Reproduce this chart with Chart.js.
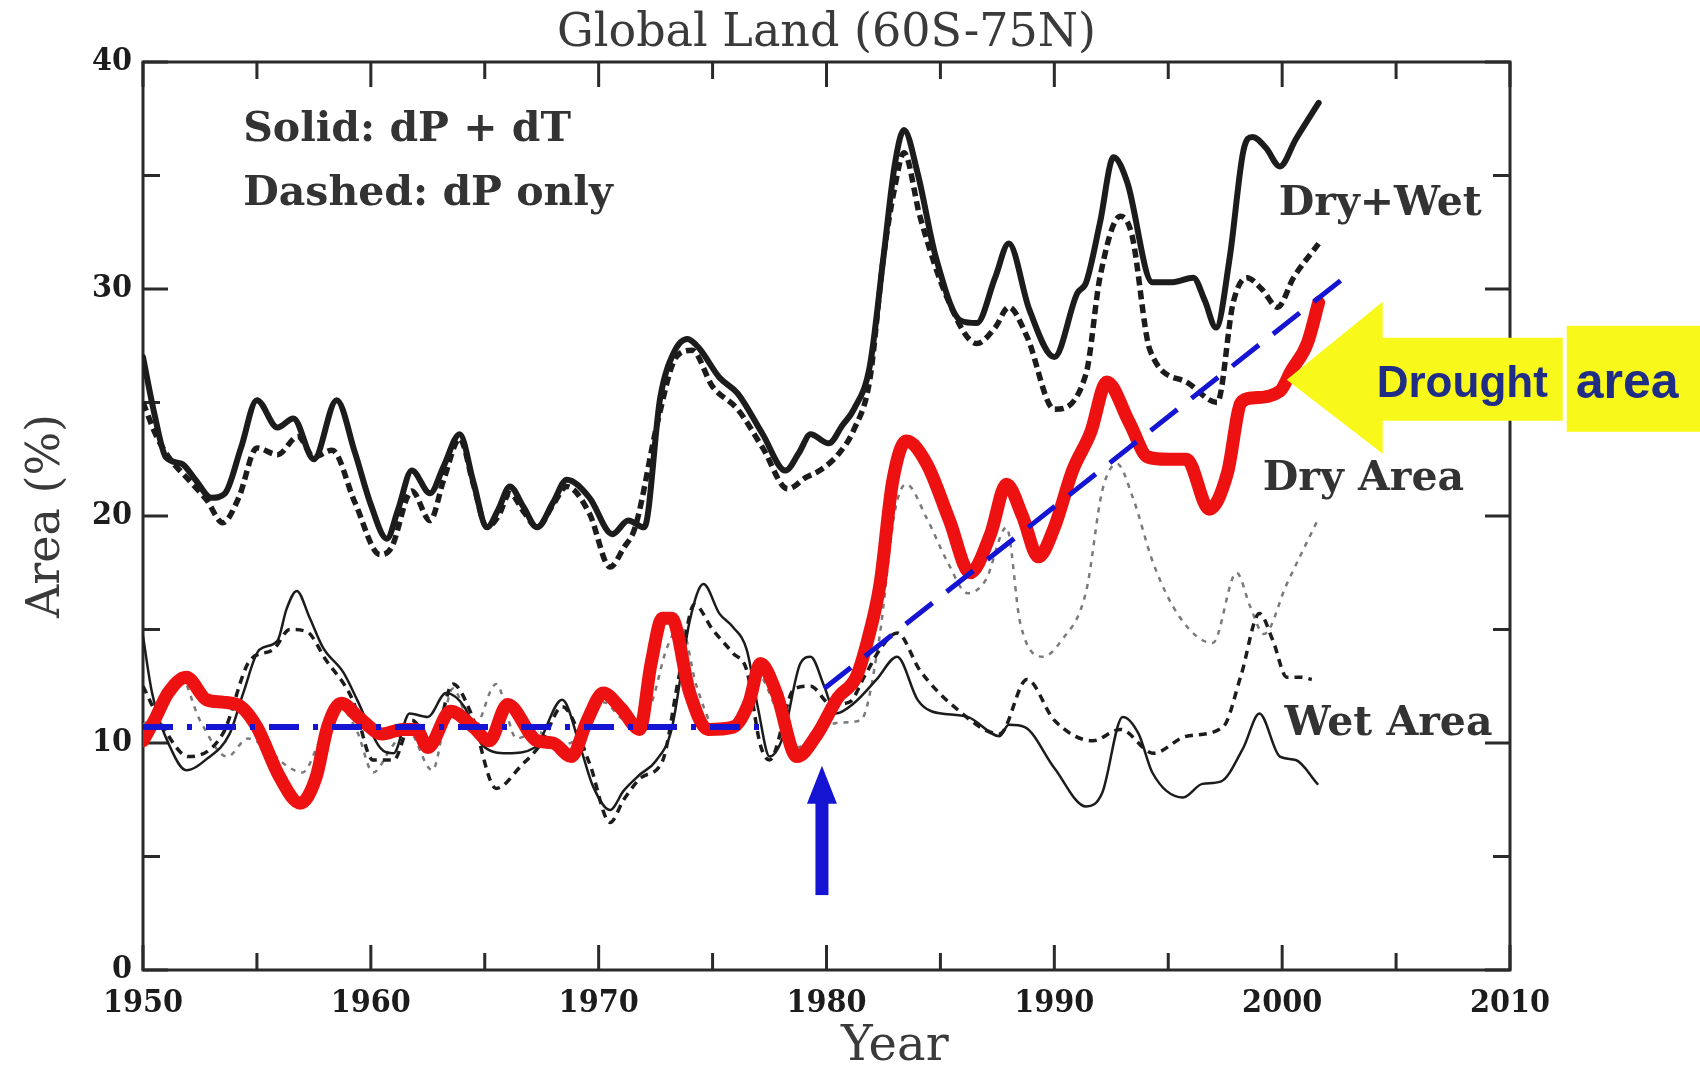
<!DOCTYPE html>
<html lang="en">
<head>
  <meta charset="utf-8">
  <title>Global Land (60S-75N)</title>
  <script src="https://cdn.jsdelivr.net/npm/chart.js@4.4.1/dist/chart.umd.min.js"></script>
  <style>
    html, body { margin: 0; padding: 0; background: #fff; }
    #wrap { width: 1700px; height: 1067px; }
  </style>
</head>
<body>
<div id="wrap"><canvas id="fig" width="1700" height="1067"></canvas></div>
<script>
/* values (year, area %) */

// Dry+Wet, solid (dP + dT)
const dryWetSolidYears = [1950, 1950.5, 1951, 1951.7, 1952.3, 1953.0, 1953.6, 1954.3, 1955.0, 1955.9, 1956.6, 1957.5, 1958.5, 1959.3, 1960.0, 1960.7, 1961.2, 1961.8, 1962.6, 1963.2, 1963.9, 1964.5, 1965.1, 1965.6, 1966.1, 1966.7, 1967.3, 1968.0, 1968.6, 1969.6, 1970.6, 1971.3, 1972.0, 1972.7, 1973.3, 1973.9, 1974.4, 1975.3, 1976.1, 1977.2, 1978.2, 1978.8, 1979.3, 1980.1, 1980.7, 1981.2, 1981.9, 1982.5, 1983.0, 1983.4, 1984.0, 1984.8, 1985.9, 1986.6, 1987.4, 1988.0, 1988.9, 1990.0, 1991.0, 1991.4, 1992.0, 1992.6, 1993.2, 1994.3, 1995.2, 1996.1, 1996.6, 1997.1, 1997.7, 1998.3, 1998.7, 1999.3, 1999.9, 2000.6, 2001.6];
const dryWetSolidVals  = [27.0, 24.5, 22.6, 22.3, 21.6, 20.8, 21.0, 23.0, 25.1, 23.9, 24.3, 22.5, 25.1, 22.8, 20.5, 19.0, 20.3, 22.0, 21.0, 22.2, 23.6, 21.5, 19.5, 20.3, 21.3, 20.4, 19.5, 20.6, 21.6, 20.8, 19.2, 19.8, 19.5, 25.2, 27.2, 27.8, 27.4, 26.1, 25.4, 23.6, 22.0, 22.8, 23.6, 23.2, 24.0, 24.7, 26.6, 31.4, 35.5, 37.0, 35.1, 31.4, 28.6, 28.5, 30.5, 32.0, 29.1, 27.0, 29.8, 30.3, 32.9, 35.8, 34.7, 30.3, 30.3, 30.5, 29.5, 28.3, 31.4, 36.1, 36.7, 36.2, 35.4, 36.6, 38.2];

// Dry+Wet, dashed (dP only)
const dryWetDashYears = [1950, 1950.6, 1951.2, 1952.0, 1952.8, 1953.5, 1954.2, 1955.0, 1955.9, 1956.8, 1957.5, 1958.3, 1959.3, 1960.4, 1960.9, 1961.8, 1962.6, 1963.2, 1963.9, 1964.5, 1965.1, 1965.6, 1966.1, 1966.7, 1967.3, 1968.0, 1968.6, 1969.6, 1970.5, 1971.1, 1971.6, 1972.6, 1973.4, 1974.1, 1975.0, 1976.1, 1977.2, 1978.3, 1979.1, 1979.7, 1980.5, 1981.2, 1981.9, 1982.5, 1983.0, 1983.4, 1984.1, 1985.3, 1986.6, 1987.4, 1988.0, 1988.8, 1990.0, 1991.4, 1992.0, 1992.9, 1993.4, 1994.2, 1995.8, 1997.15, 1997.85, 1998.45, 1999.1, 1999.8, 2000.5, 2001.6];
const dryWetDashVals  = [25.0, 23.5, 22.5, 21.6, 20.7, 19.7, 20.8, 23.0, 22.7, 23.5, 22.6, 22.9, 20.6, 18.3, 18.6, 21.1, 19.8, 21.6, 23.4, 21.4, 19.5, 20.0, 21.0, 20.2, 19.5, 20.5, 21.3, 20.1, 17.75, 18.6, 19.5, 24.2, 27.0, 27.3, 25.7, 24.7, 23.0, 21.2, 21.7, 22.0, 22.7, 23.8, 26.0, 31.4, 34.5, 36.0, 33.2, 29.6, 27.6, 28.3, 29.2, 27.9, 24.7, 26.3, 30.5, 33.2, 32.4, 27.3, 25.9, 25.0, 29.4, 30.5, 30.0, 29.2, 30.5, 32.0];

// Dry area, solid (dP + dT) - the highlighted drought area
const droughtYears = [1950, 1950.5, 1951.1, 1951.9, 1952.8, 1953.5, 1954.3, 1955.0, 1956.0, 1956.9, 1957.6, 1958.1, 1958.7, 1959.5, 1960.5, 1961.4, 1962.0, 1962.5, 1963.5, 1964.5, 1965.2, 1966.0, 1967.3, 1968.0, 1968.8, 1969.5, 1970.2, 1971.0, 1971.8, 1972.3, 1972.8, 1973.2, 1974.0, 1974.8, 1975.9, 1976.6, 1977.1, 1977.8, 1978.7, 1979.6, 1980.5, 1981.3, 1981.8, 1982.35, 1982.9, 1983.5, 1984.4, 1985.4, 1986.3, 1987.2, 1987.9, 1988.6, 1989.3, 1990.0, 1990.8, 1991.6, 1992.3, 1993.3, 1994.1, 1995.0, 1995.8, 1996.8, 1997.6, 1998.2, 1998.7, 1999.9, 2000.4, 2001.1, 2001.6];
const droughtVals  = [10.1, 11.0, 12.2, 12.9, 11.9, 11.8, 11.6, 10.7, 8.5, 7.35, 8.5, 10.7, 11.75, 11.1, 10.4, 10.6, 10.6, 9.8, 11.4, 10.7, 10.1, 11.7, 10.1, 10.0, 9.4, 11.0, 12.2, 11.5, 10.6, 13.5, 15.5, 15.5, 12.2, 10.6, 10.7, 11.8, 13.5, 12.2, 9.4, 10.4, 12.0, 12.9, 14.5, 17.0, 21.5, 23.3, 22.3, 19.8, 17.5, 19.2, 21.4, 20.0, 18.2, 19.5, 22.0, 23.7, 25.9, 24.1, 22.6, 22.5, 22.5, 20.3, 21.9, 25.0, 25.2, 25.5, 26.4, 27.6, 29.4];

// Dry area, dashed (dP only)
const dryDashYears = [1950, 1950.8, 1951.6, 1952.5, 1953.7, 1954.6, 1955.5, 1956.3, 1957.0, 1957.8, 1958.6, 1959.4, 1960.1, 1960.9, 1961.6, 1962.7, 1963.6, 1964.5, 1965.5, 1966.4, 1967.3, 1968.3, 1969.3, 1970.2, 1971.2, 1972.2, 1973.0, 1973.6, 1974.3, 1975.2, 1976.2, 1977.0, 1977.8, 1978.7, 1979.7, 1980.6, 1981.5, 1982.3, 1983.0, 1983.5, 1984.4, 1985.3, 1986.2, 1987.0, 1987.9, 1988.5, 1989.5, 1990.3, 1991.4, 1992.1, 1992.75, 1993.45, 1994.35, 1995.5, 1996.95, 1998.0, 1998.6, 1999.2, 2000.2, 2001.55];
const dryDashVals  = [10.8, 11.5, 13.0, 11.0, 9.4, 10.2, 9.7, 9.0, 8.7, 10.2, 11.6, 10.5, 8.7, 9.8, 10.6, 8.8, 12.4, 10.6, 12.6, 10.2, 10.5, 9.9, 10.4, 11.8, 11.0, 11.5, 14.2, 15.2, 12.5, 10.6, 11.2, 13.0, 11.5, 9.8, 10.6, 10.9, 11.0, 14.5, 20.2, 21.4, 19.9, 18.0, 16.6, 17.2, 19.5, 15.3, 13.8, 14.5, 16.7, 21.1, 22.3, 20.8, 17.9, 15.55, 14.4, 17.5, 16.0, 14.8, 17.0, 19.8];

// Wet area, solid (dP + dT)
const wetSolidYears = [1950, 1950.4, 1951.2, 1951.9, 1952.8, 1953.8, 1954.4, 1955.1, 1955.9, 1956.3, 1956.75, 1957.3, 1957.9, 1958.8, 1959.4, 1960.4, 1961.0, 1961.7, 1962.5, 1963.3, 1964.1, 1964.9, 1966.0, 1967.2, 1968.4, 1969.2, 1969.75, 1970.5, 1971.1, 1971.8, 1972.5, 1973.2, 1974.0, 1974.6, 1975.3, 1975.9, 1976.5, 1977.0, 1977.5, 1978.1, 1978.85, 1979.3, 1979.9, 1980.4, 1981.2, 1982.2, 1983.1, 1984.0, 1984.6, 1986.2, 1987.6, 1988.0, 1988.7, 1990.0, 1991.4, 1992.1, 1993.0, 1993.7, 1994.3, 1995.65, 1996.5, 1997.3, 1998.3, 1999.0, 1999.9, 2000.6, 2001.55];
const wetSolidVals  = [14.7, 12.2, 9.8, 8.8, 9.3, 10.4, 12.2, 14.1, 14.5, 15.9, 16.7, 15.55, 14.2, 13.1, 11.9, 9.8, 9.55, 11.3, 11.15, 12.2, 11.6, 9.9, 9.55, 9.8, 11.9, 9.8, 8.1, 7.05, 7.9, 8.6, 9.2, 10.6, 15.4, 17.0, 15.7, 15.1, 14.1, 11.5, 9.4, 10.3, 13.5, 13.8, 12.5, 11.3, 11.75, 12.8, 13.8, 11.9, 11.4, 11.15, 10.3, 10.8, 10.7, 8.9, 7.2, 7.8, 11.15, 10.4, 8.7, 7.6, 8.2, 8.3, 9.8, 11.3, 9.4, 9.25, 8.2];

// Wet area, dashed (dP only)
const wetDashYears = [1950, 1951.0, 1952.0, 1953.5, 1954.7, 1955.7, 1956.45, 1957.2, 1958.0, 1959.2, 1960.1, 1961.0, 1961.8, 1962.7, 1963.6, 1964.4, 1965.5, 1966.6, 1967.5, 1968.4, 1969.6, 1970.5, 1971.1, 1971.9, 1972.8, 1973.5, 1974.2, 1975.0, 1975.9, 1976.5, 1977.1, 1977.5, 1978.6, 1979.3, 1980.2, 1981.0, 1981.7, 1982.4, 1983.1, 1984.1, 1985.6, 1987.6, 1988.8, 1990.0, 1991.7, 1992.9, 1994.35, 1995.8, 1997.4, 1998.2, 1999.0, 1999.6, 2000.2, 2000.8, 2001.3];
const wetDashVals  = [12.5, 10.5, 9.4, 10.4, 13.65, 14.1, 15.0, 14.9, 13.7, 11.9, 9.25, 9.25, 11.0, 9.9, 12.6, 11.3, 8.0, 9.0, 10.0, 11.6, 9.1, 6.5, 7.5, 8.5, 9.2, 12.8, 16.1, 15.0, 13.95, 13.2, 9.9, 9.25, 12.4, 12.5, 11.7, 11.8, 13.0, 14.2, 14.85, 13.2, 11.6, 10.4, 12.8, 11.0, 10.1, 10.6, 9.55, 10.3, 10.7, 13.0, 15.7, 14.5, 12.9, 12.9, 12.8];

// blue reference lines
const flatYears = [1950, 1977.1];
const flatVals  = [10.7, 10.7];
const trendYears = [1979.9, 2002.6];
const trendVals  = [12.4, 30.4];

// blue arrow at 1980 and the tip of the yellow "Drought area" arrow (data units)
const arrowYear = 1979.8, arrowFrom = 3.3, arrowTo = 9.0;
const droughtTipYear = 2000.2, droughtTipVal = 26.0;

// text labels placed in data units
const notes = [
  { text: 'Solid: dP + dT',  x: 1954.4, y: 36.5 },
  { text: 'Dashed: dP only', x: 1954.4, y: 33.7 },
  { text: 'Dry+Wet',         x: 1999.85, y: 33.25 },
  { text: 'Dry Area',        x: 1999.15, y: 21.15 },
  { text: 'Wet Area',        x: 2000.1, y: 10.35 }
];

const BLUE = '#1414d2', RED = '#ee1111', INK = '#1c1c1c', YELLOW = '#f8f81a';
const serifBold = "'DejaVu Serif Condensed', 'DejaVu Serif', serif";

function pts(xs, ys) {
  return xs.map((x, i) => ({ x: x, y: ys[i] }));
}

// frame, inward ticks, texts and arrows
const figurePlugin = {
  id: 'figure',
  beforeDatasetsDraw(chart) {
    const ctx = chart.ctx, a = chart.chartArea;
    const xs = chart.scales.x, ys = chart.scales.y;
    ctx.save();
    ctx.strokeStyle = '#2a2a2a';
    ctx.lineWidth = 3;
    ctx.strokeRect(a.left, a.top, a.right - a.left, a.bottom - a.top);
    ctx.beginPath();
    for (let yr = 1950; yr <= 2010; yr += 5) {
      const px = xs.getPixelForValue(yr);
      const len = yr % 10 === 0 ? 25 : 17;
      ctx.moveTo(px, a.bottom); ctx.lineTo(px, a.bottom - len);
      ctx.moveTo(px, a.top); ctx.lineTo(px, a.top + len);
    }
    for (let v = 0; v <= 40; v += 5) {
      const py = ys.getPixelForValue(v);
      const len = v % 10 === 0 ? 25 : 17;
      ctx.moveTo(a.left, py); ctx.lineTo(a.left + len, py);
      ctx.moveTo(a.right, py); ctx.lineTo(a.right - len, py);
    }
    ctx.stroke();
    ctx.restore();
  },
  afterDraw(chart) {
    const ctx = chart.ctx, a = chart.chartArea;
    const xs = chart.scales.x, ys = chart.scales.y;
    ctx.save();

    // title and axis titles
    ctx.fillStyle = '#3a3a3a';
    ctx.textBaseline = 'alphabetic';
    ctx.textAlign = 'center';
    ctx.font = "46px 'DejaVu Serif', serif";
    ctx.fillText('Global Land (60S-75N)', (a.left + a.right) / 2, 46);
    ctx.font = "48px 'DejaVu Serif', serif";
    ctx.fillText('Year', xs.getPixelForValue(1983), 1060);
    ctx.save();
    ctx.translate(59, (a.top + a.bottom) / 2);
    ctx.rotate(-Math.PI / 2);
    ctx.font = "46px 'DejaVu Serif', serif";
    ctx.fillText('Area (%)', 0, 0);
    ctx.restore();

    // notes inside the plot
    ctx.textAlign = 'left';
    ctx.fillStyle = '#333';
    ctx.font = "bold 41px 'DejaVu Serif', serif";
    notes.forEach(n => ctx.fillText(n.text, xs.getPixelForValue(n.x), ys.getPixelForValue(n.y)));

    // blue arrow
    const ax = xs.getPixelForValue(arrowYear);
    const y0 = ys.getPixelForValue(arrowFrom), y1 = ys.getPixelForValue(arrowTo);
    ctx.fillStyle = BLUE;
    ctx.fillRect(ax - 6.5, y1 + 30, 13, y0 - y1 - 30);
    ctx.beginPath();
    ctx.moveTo(ax, y1);
    ctx.lineTo(ax + 15, y1 + 38);
    ctx.lineTo(ax - 15, y1 + 38);
    ctx.closePath();
    ctx.fill();

    // yellow "Drought area" arrow
    const tx = xs.getPixelForValue(droughtTipYear), ty = ys.getPixelForValue(droughtTipVal);
    ctx.fillStyle = YELLOW;
    ctx.beginPath();
    ctx.moveTo(tx, ty);
    ctx.lineTo(tx + 96, ty - 78);
    ctx.lineTo(tx + 96, ty - 42);
    ctx.lineTo(tx + 276, ty - 42);
    ctx.lineTo(tx + 276, ty + 41);
    ctx.lineTo(tx + 96, ty + 41);
    ctx.lineTo(tx + 96, ty + 74);
    ctx.closePath();
    ctx.fill();
    ctx.fillRect(tx + 280, ty - 54, chart.width - (tx + 280), 106);
    ctx.fillStyle = '#1f2d86';
    ctx.font = "bold 44px 'Liberation Sans', Arial, sans-serif";
    ctx.fillText('Drought', tx + 90, ty + 17);
    ctx.font = "bold 50px 'Liberation Sans', Arial, sans-serif";
    ctx.fillText('area', tx + 289, ty + 18);
    ctx.restore();
  }
};

const tickFont = { family: serifBold, size: 32, weight: 'bold' };

new Chart(document.getElementById('fig'), {
  type: 'line',
  data: {
    datasets: [
      { data: pts(trendYears, trendVals), borderColor: BLUE, borderWidth: 5, borderDash: [34, 18], borderCapStyle: 'butt' },
      { data: pts(flatYears, flatVals), borderColor: BLUE, borderWidth: 6, borderDash: [30, 14, 5, 14], borderCapStyle: 'butt' },
      { data: pts(droughtYears, droughtVals), borderColor: RED, borderWidth: 13 },
      { data: pts(wetSolidYears, wetSolidVals), borderColor: INK, borderWidth: 2.5 },
      { data: pts(wetDashYears, wetDashVals), borderColor: INK, borderWidth: 3.5, borderDash: [8, 6], borderCapStyle: 'butt' },
      { data: pts(dryDashYears, dryDashVals), borderColor: '#7a7a7a', borderWidth: 2.5, borderDash: [5, 6], borderCapStyle: 'butt' },
      { data: pts(dryWetSolidYears, dryWetSolidVals), borderColor: INK, borderWidth: 6 },
      { data: pts(dryWetDashYears, dryWetDashVals), borderColor: INK, borderWidth: 5.5, borderDash: [9, 5], borderCapStyle: 'butt' }
    ]
  },
  options: {
    responsive: false,
    animation: false,
    layout: { padding: { left: 0, top: 62, right: 190, bottom: 0 } },
    plugins: { legend: { display: false }, tooltip: { enabled: false } },
    elements: {
      point: { radius: 0 },
      line: { cubicInterpolationMode: 'monotone', borderCapStyle: 'round', borderJoinStyle: 'round' }
    },
    scales: {
      x: {
        type: 'linear', min: 1950, max: 2010,
        afterFit(s) { s.height = 97; },
        grid: { display: false, drawTicks: false },
        border: { display: false },
        ticks: { stepSize: 10, padding: 14, color: INK, font: tickFont, maxRotation: 0, callback: v => String(v) }
      },
      y: {
        min: 0, max: 40,
        afterFit(s) { s.width = 143; },
        grid: { display: false, drawTicks: false },
        border: { display: false },
        ticks: { stepSize: 10, padding: 11, color: INK, font: tickFont }
      }
    }
  },
  plugins: [figurePlugin]
});
</script>
</body>
</html>
